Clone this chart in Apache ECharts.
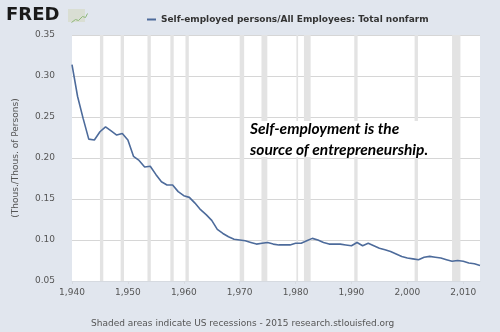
<!DOCTYPE html>
<html>
<head>
<meta charset="utf-8">
<script src="https://cdn.jsdelivr.net/npm/echarts@6/dist/echarts.min.js"></script>
<style>
html,body{margin:0;padding:0;background:#e1e6ee;}
#c{width:500px;height:332px;}
</style>
</head>
<body>
<div id="c"></div>
<script>
const years = [1940,1941,1942,1943,1944,1945,1946,1947,1948,1949,1950,1951,1952,1953,1954,1955,1956,1957,1958,1959,1960,1961,1962,1963,1964,1965,1966,1967,1968,1969,1970,1971,1972,1973,1974,1975,1976,1977,1978,1979,1980,1981,1982,1983,1984,1985,1986,1987,1988,1989,1990,1991,1992,1993,1994,1995,1996,1997,1998,1999,2000,2001,2002,2003,2004,2005,2006,2007,2008,2009,2010,2011,2012,2013];
const ratio = [0.314,0.275,0.248,0.223,0.222,0.232,0.238,0.233,0.228,0.230,0.222,0.202,0.197,0.189,0.190,0.180,0.171,0.167,0.167,0.159,0.154,0.152,0.145,0.137,0.131,0.124,0.113,0.108,0.104,0.101,0.100,0.099,0.097,0.095,0.096,0.097,0.095,0.094,0.094,0.094,0.096,0.096,0.099,0.102,0.100,0.097,0.095,0.095,0.095,0.094,0.093,0.097,0.093,0.096,0.093,0.090,0.088,0.086,0.083,0.080,0.078,0.077,0.076,0.079,0.080,0.079,0.078,0.076,0.074,0.075,0.074,0.072,0.071,0.069];
const recessionStart = [1945.0,1948.7,1953.5,1957.6,1960.3,1970.0,1973.9,1980.15,1981.5,1990.5,2001.3,2008.0];
const recessionEnd   = [1945.6,1949.3,1954.1,1958.2,1960.9,1970.8,1974.95,1980.45,1982.7,1991.1,2001.9,2009.5];
const yTicks = [0.05,0.10,0.15,0.20,0.25,0.30,0.35];
const seriesName = 'Self-employed persons/All Employees: Total nonfarm';
const yAxisName = '(Thous./Thous. of Persons)';
const footer = 'Shaded areas indicate US recessions - 2015 research.stlouisfed.org';
const note = ['Self-employment is the', 'source of entrepreneurship.'];

const chart = echarts.init(document.getElementById('c'), null, {renderer:'canvas'});
const lineData = years.map((y,i)=>[y, ratio[i]]);
const areas = recessionStart.map((s,i)=>[{xAxis:s},{xAxis:recessionEnd[i]}]);
const font = '"DejaVu Sans", Verdana, sans-serif';

chart.setOption({
  backgroundColor:'#e1e6ee',
  animation:false,
  grid:{left:72,right:20,top:35,bottom:51,show:true,backgroundColor:'#ffffff',borderWidth:0},
  legend:{
    show:true, top:10, left:142,
    data:[seriesName],
    icon:'rect', itemWidth:9, itemHeight:2, itemGap:5,
    textStyle:{fontFamily:font, fontWeight:'bold', fontSize:9, color:'#333'}
  },
  xAxis:{
    type:'value', min:1940, max:2013, interval:10,
    axisLine:{show:true, lineStyle:{color:'#d6dae0'}},
    axisTick:{show:true, length:3, lineStyle:{color:'#d6dae0'}},
    splitLine:{show:false},
    axisLabel:{showMaxLabel:false, color:'#555', fontFamily:font, fontSize:9, margin:7}
  },
  yAxis:{
    type:'value', min:0.05, max:0.35, interval:0.05,
    name:yAxisName, nameLocation:'middle', nameGap:52, nameRotate:90,
    nameTextStyle:{color:'#555', fontFamily:font, fontSize:9},
    axisLine:{show:false}, axisTick:{show:false},
    splitLine:{show:true, lineStyle:{color:'#d6d6d6', width:1}},
    axisLabel:{color:'#555', fontFamily:font, fontSize:9, margin:17,
      formatter:v=>{const t=yTicks.reduce((a,b)=>Math.abs(b-v)<Math.abs(a-v)?b:a);return t.toFixed(2);}}
  },
  series:[{
    name:seriesName, type:'line', data:lineData, showSymbol:false, symbol:'none',
    lineStyle:{color:'#4d6b9b', width:1.6}, itemStyle:{color:'#4d6b9b'},
    z:3,
    markArea:{silent:true, itemStyle:{color:'#e3e3e3'}, data:areas, z:1}
  }],
  graphic:[
    {type:'text', left:6, top:6, style:{text:'FRED', font:'bold 18px "DejaVu Sans", sans-serif', fill:'#1a1a1a'}},
    {type:'rect', left:68, top:9, shape:{width:17,height:13}, style:{fill:'#d9ded3'}},
    {type:'polyline', left:69, top:11, shape:{points:[[0,10],[4,7],[7,8],[11,4],[14,5],[16,1]]}, style:{stroke:'#8fb87a', fill:null, lineWidth:1}},
    {type:'rect', left:245, top:121, shape:{width:192,height:36}, style:{fill:'#ffffff'}, z:10},
    {type:'text', left:250, top:118, z:11, style:{text:note.join('\n'), font:'italic bold 15.5px Lato, "Open Sans", sans-serif', fill:'#000', lineHeight:21}},
    {type:'text', left:91, top:319, style:{text:footer, font:'9px "DejaVu Sans", Verdana, sans-serif', fill:'#555'}}
  ]
});
</script>
</body>
</html>
